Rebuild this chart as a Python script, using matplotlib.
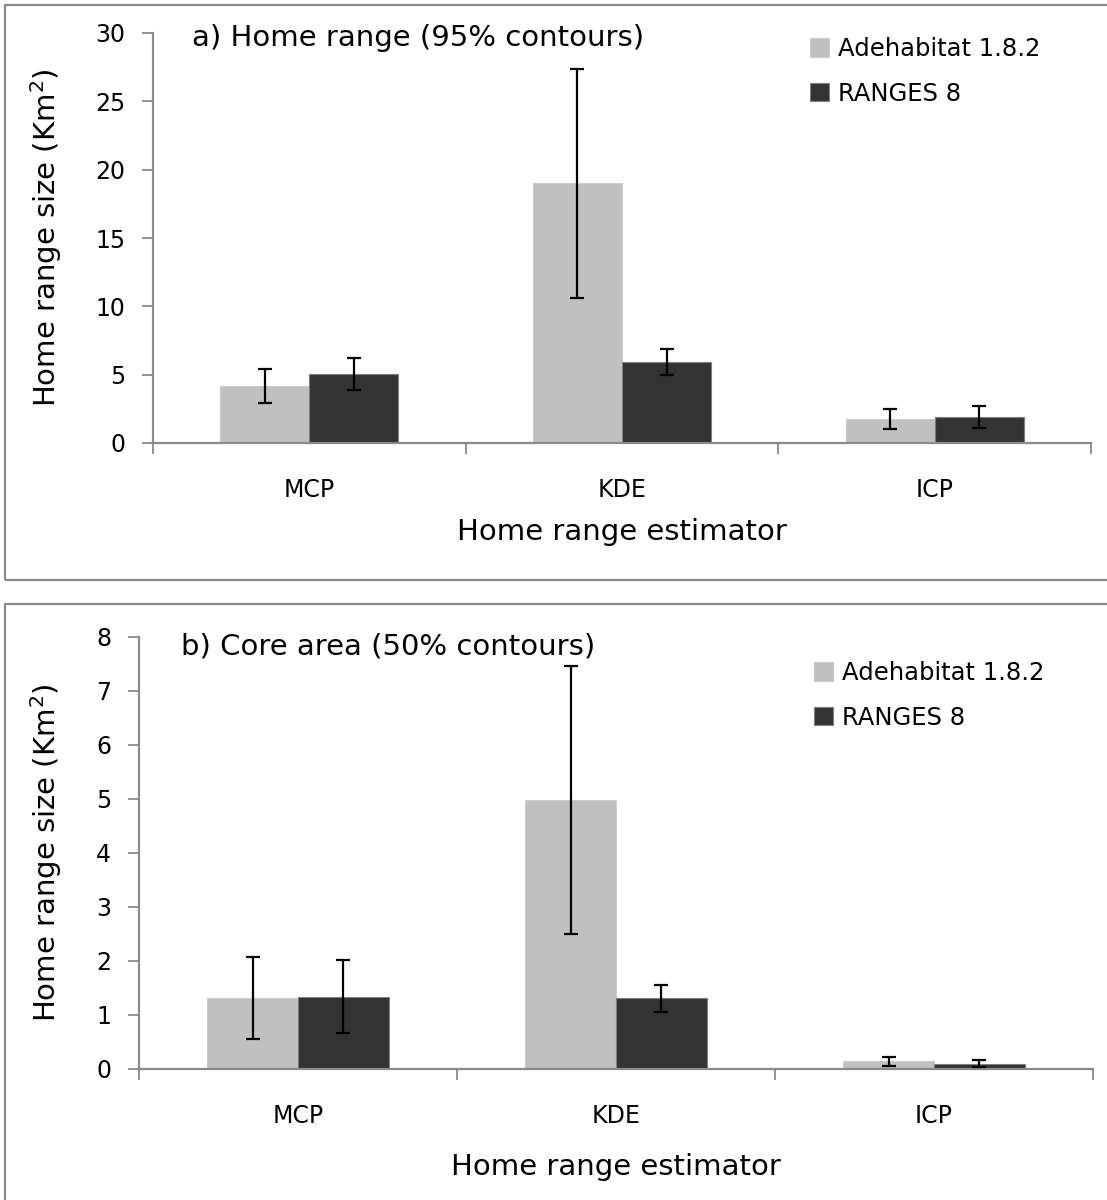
import matplotlib.pyplot as plt
from matplotlib.patches import Rectangle
import numpy as np

plt.rcParams['font.family'] = ['DejaVu Sans']

estimators = ['MCP', 'KDE', 'ICP']
series = ['Adehabitat 1.8.2', 'RANGES 8']

# a) home range, 95% contours
hr_adehabitat = [4.2, 19.0, 1.75]
hr_adehabitat_err = [1.25, 8.4, 0.73]
hr_ranges = [5.05, 5.95, 1.9]
hr_ranges_err = [1.16, 0.94, 0.8]

# b) core area, 50% contours
core_adehabitat = [1.32, 4.98, 0.14]
core_adehabitat_err = [0.76, 2.48, 0.08]
core_ranges = [1.34, 1.31, 0.1]
core_ranges_err = [0.68, 0.25, 0.06]

light = '#c0c0c0'
dark = '#333333'
axis_grey = '#8a8a8a'
W, H = 1107, 1200


def panel(ax, vals_a, err_a, vals_r, err_r, ymax, ystep, title, tpos, leg_xy, ylab_x, xlab_y):
    x = np.arange(len(estimators))
    w = 0.285
    ax.bar(x - w / 2, vals_a, w, color=light, edgecolor='#cccccc', linewidth=0.8,
           label=series[0], zorder=2)
    ax.bar(x + w / 2, vals_r, w, color=dark, edgecolor='#7f7f7f', linewidth=0.8,
           label=series[1], zorder=2)
    ekw = dict(fmt='none', ecolor='black', elinewidth=1.6, capsize=5, capthick=1.6, zorder=3)
    ax.errorbar(x - w / 2, vals_a, yerr=err_a, **ekw)
    ax.errorbar(x + w / 2, vals_r, yerr=err_r, **ekw)

    ax.set_xlim(-0.5, 2.5)
    ax.set_ylim(0, ymax)
    ax.set_yticks(np.arange(0, ymax + ystep / 2, ystep))
    ax.set_xticks(x)
    ax.set_xticklabels(estimators)
    ax.set_xticks(np.arange(-0.5, 2.6, 1), minor=True)
    ax.tick_params(axis='x', which='major', length=0, pad=25, labelsize=17)
    ax.tick_params(axis='x', which='minor', length=8, width=1.3, color=axis_grey)
    ax.tick_params(axis='y', length=8, width=1.3, color=axis_grey, labelsize=17, pad=12)

    for s in ['top', 'right']:
        ax.spines[s].set_visible(False)
    for s in ['left', 'bottom']:
        ax.spines[s].set_color(axis_grey)
        ax.spines[s].set_linewidth(1.6)

    ax.set_ylabel('Home range size (Km$^2$)', fontsize=21, va='center')
    ax.yaxis.set_label_coords(ylab_x, 0.5)
    ax.set_xlabel('Home range estimator', fontsize=21, va='center')
    ax.xaxis.set_label_coords(0.5, xlab_y)
    ax.text(tpos[0], tpos[1], title, transform=ax.transAxes, fontsize=21,
            ha='left', va='center')
    ax.legend(loc='upper left', bbox_to_anchor=leg_xy, bbox_transform=ax.figure.transFigure,
              frameon=False, fontsize=17.5, handlelength=0.78, handleheight=0.78,
              handletextpad=0.37, labelspacing=0.85, borderpad=0, borderaxespad=0)


fig = plt.figure(figsize=(W / 100, H / 100), dpi=100)

# panel frames
fig.patches.append(Rectangle((5 / W, 1 - 580 / H), 1.2, 575 / H, transform=fig.transFigure,
                             fill=False, edgecolor='#8a8a8a', linewidth=1.6))
fig.patches.append(Rectangle((5 / W, -0.2), 1.2, 0.2 + 1 - 604 / H, transform=fig.transFigure,
                             fill=False, edgecolor='#8a8a8a', linewidth=1.6))

# top: plot area x 153..1091, y 33..443
ax1 = fig.add_axes([153 / W, 1 - 443 / H, 938 / W, 410 / H])
panel(ax1, hr_adehabitat, hr_adehabitat_err, hr_ranges, hr_ranges_err, 30, 5,
      'a) Home range (95% contours)', (0.0416, 0.988), (810 / W, 1 - 37 / H),
      (46 - 153) / 938, (443 - 532) / 410)

# bottom: plot area x 139..1093, y 637..1069
ax2 = fig.add_axes([139 / W, 1 - 1069 / H, 954 / W, 432 / H])
panel(ax2, core_adehabitat, core_adehabitat_err, core_ranges, core_ranges_err, 8, 1,
      'b) Core area (50% contours)', (0.044, 0.977), (814 / W, 1 - 661 / H),
      (46 - 139) / 954, (1069 - 1167) / 432)

fig.savefig('out.png', dpi=100)
